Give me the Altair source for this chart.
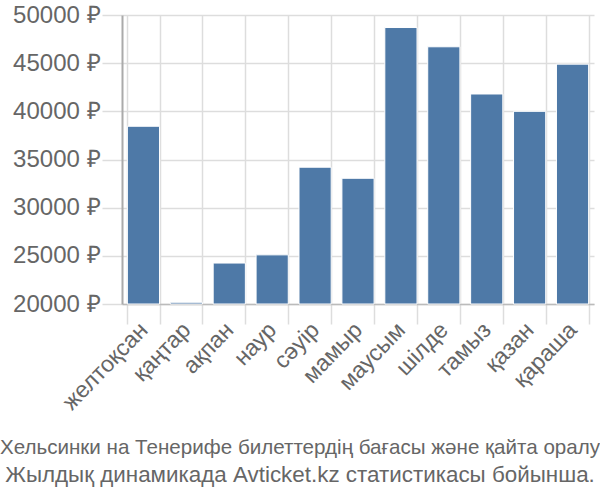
import altair as alt
import pandas as pd

months = ["желтоқсан", "қаңтар", "ақпан", "наур", "сәуір", "мамыр",
          "маусым", "шілде", "тамыз", "қазан", "қараша"]
prices = [38450, 20180, 24250, 25100, 34200, 33050, 48700, 46700, 41800, 40000, 44900]
y_ticks = [20000, 25000, 30000, 35000, 40000, 45000, 50000]
title_line1 = "Хельсинки на Тенерифе билеттердің бағасы және қайта оралу"
title_line2 = "Жылдық динамикада Avticket.kz статистикасы бойынша."

df = pd.DataFrame({"month": months, "price": prices, "base": [y_ticks[0]] * len(months)})

FONT = "Liberation Sans"
GRAY = "#666666"

chart = alt.Chart(df).mark_bar(color="#4e79a7", stroke="white", strokeWidth=1).encode(
    x=alt.X("month:N", sort=months, title=None,
            scale=alt.Scale(paddingInner=0.25, paddingOuter=0.125),
            axis=alt.Axis(labelAngle=-46, labelAlign="right", labelBaseline="middle",
                          labelFontSize=23, labelColor=GRAY, labelFont=FONT,
                          tickSize=20, tickColor="#dddddd", tickWidth=1.5,
                          domainColor="#bbbbbb", domainWidth=1.5,
                          grid=True, gridColor="#dddddd", gridWidth=1.5,
                          tickBand="extent", labelPadding=2)),
    y=alt.Y("price:Q", title=None,
            scale=alt.Scale(domain=[20000, 50000], zero=False, nice=False),
            axis=alt.Axis(values=y_ticks, labelExpr="datum.value + ' ₽'",
                          labelFontSize=24, labelColor=GRAY, labelFont=FONT,
                          tickSize=20, tickColor="#dddddd", tickWidth=1.5,
                          domainColor="#aaaaaa", domainWidth=2,
                          gridColor="#dddddd", gridWidth=1.5, labelPadding=2)),
    y2="base:Q",
).properties(
    width=472, height=289,
    padding={"left": 122, "top": 15, "right": 6, "bottom": 196},
    autosize=alt.AutoSizeParams(type="none"),
    title=alt.TitleParams(text=title_line1, subtitle=title_line2,
                          orient="bottom", anchor="middle",
                          fontSize=20.6, color=GRAY, font=FONT, fontWeight="normal",
                          subtitleFontSize=22.4, subtitleColor=GRAY, subtitleFont=FONT,
                          subtitlePadding=5,
                          offset=24, dx=-58),
).configure_view(stroke=None)

chart.save("out.html", embed_options={"renderer": "svg", "actions": False})
